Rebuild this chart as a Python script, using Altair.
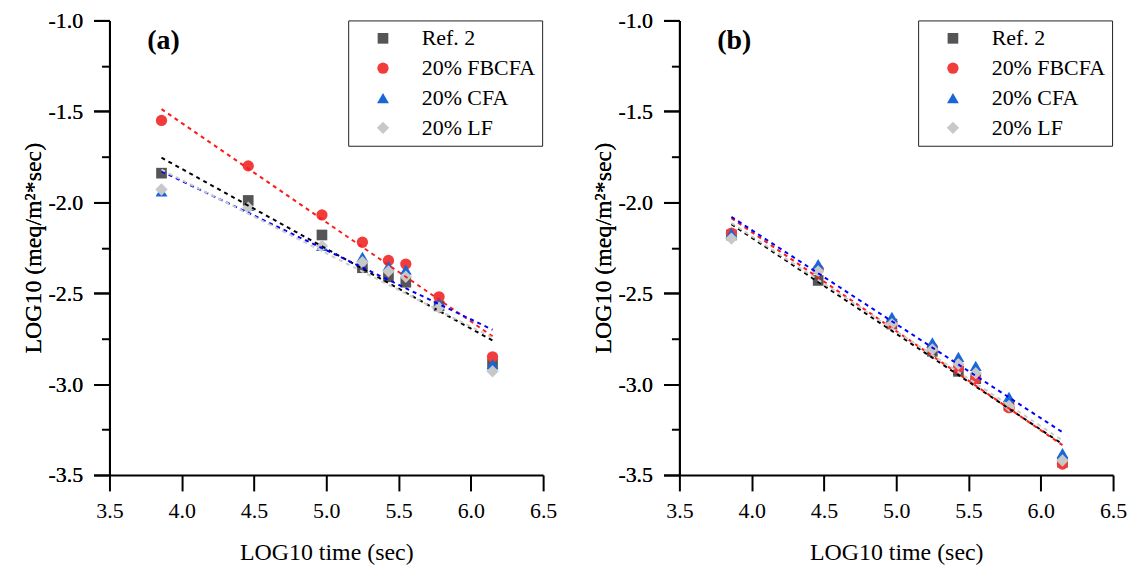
import altair as alt
import pandas as pd

# ---- data ----
x_vals = [3.86, 4.46, 4.97, 5.25, 5.43, 5.55, 5.78, 6.15]
series_names = ["Ref. 2", "20% FBCFA", "20% CFA", "20% LF"]

ref2_a = [-1.84, -1.99, -2.18, -2.36, -2.41, -2.44, -2.57, -2.89]
fbcfa_a = [-1.55, -1.80, -2.07, -2.22, -2.32, -2.34, -2.52, -2.85]
cfa_a = [-1.94, -2.02, -2.24, -2.30, -2.35, -2.37, -2.55, -2.89]
lf_a = [-1.93, -2.03, -2.24, -2.33, -2.38, -2.41, -2.58, -2.93]

ref2_b = [-2.18, -2.43, -2.67, -2.82, -2.93, -2.97, -3.12, -3.43]
fbcfa_b = [-2.17, -2.37, -2.67, -2.80, -2.91, -2.97, -3.13, -3.44]
cfa_b = [-2.17, -2.34, -2.63, -2.77, -2.85, -2.90, -3.07, -3.38]
lf_b = [-2.20, -2.38, -2.67, -2.81, -2.89, -2.94, -3.12, -3.42]

x_ticks = [3.5, 4.0, 4.5, 5.0, 5.5, 6.0, 6.5]
y_major = [-3.5, -3.0, -2.5, -2.0, -1.5, -1.0]
y_minor = [-3.25, -2.75, -2.25, -1.75, -1.25]

# ---- styles ----
marker_colors = ["#555555", "#f23c3c", "#1a66d9", "#c8c8c8"]
line_colors = ["#000000", "#ff1a1a", "#0000ff", "#cccccc"]
shapes = ["square", "circle", "triangle-up", "diamond"]
sizes = [115, 155, 175, 215]
FONT = "Liberation Serif"


def build(series_vals, label):
    rows = []
    for name, vals in zip(series_names, series_vals):
        for xv, yv in zip(x_vals, vals):
            rows.append({"x": xv, "y": yv, "series": name})
    df = pd.DataFrame(rows)

    x_axis = alt.Axis(
        values=x_ticks, title="LOG10 time (sec)", grid=False,
        labelExpr="format(datum.value, '.1f')",
        labelFont=FONT, labelFontSize=22, titleFont=FONT, titleFontSize=24,
        tickSize=16, labelPadding=10, titlePadding=19,
        labelFlush=False, labelOverlap=False,
    )
    y_axis = alt.Axis(
        values=y_major, title="LOG10 (meq/m²*sec)", grid=False, orient="left",
        labelExpr="replace(format(datum.value, '.1f'), '−', '-')",
        labelFont=FONT, labelFontSize=22, titleFont=FONT, titleFontSize=24,
        tickSize=16, labelPadding=11, titlePadding=2,
        labelOverlap=False,
    )
    y_minor_axis = alt.Axis(
        values=y_minor, title=None, grid=False, orient="left",
        labels=False, domain=False, tickSize=8,
    )
    xscale = alt.Scale(domain=[3.5, 6.5], nice=False, zero=False)
    yscale = alt.Scale(domain=[-3.5, -1.0], nice=False, zero=False)
    xenc = alt.X("x:Q", scale=xscale, axis=x_axis)
    yenc = alt.Y("y:Q", scale=yscale, axis=y_axis)

    leg = alt.Legend(
        title=None, orient="none", legendX=240, legendY=0,
        strokeColor="#222222", fillColor="white", padding=7,
        labelFont=FONT, labelFontSize=22, labelColor="black",
        symbolSize=130, symbolStrokeWidth=0, rowPadding=8,
        labelOffset=28, symbolOffset=17,
    )

    pts = alt.Chart(df).mark_point(filled=True, opacity=1, strokeWidth=0).encode(
        x=xenc, y=yenc,
        color=alt.Color("series:N", scale=alt.Scale(domain=series_names, range=marker_colors), legend=leg),
        shape=alt.Shape("series:N", scale=alt.Scale(domain=series_names, range=shapes), legend=leg),
        size=alt.Size("series:N", scale=alt.Scale(domain=series_names, range=sizes), legend=None),
    )

    lines = alt.Chart(df).transform_regression(
        "x", "y", groupby=["series"]
    ).mark_line(strokeDash=[4, 4], strokeWidth=2).encode(
        x=xenc, y=yenc,
        stroke=alt.Stroke("series:N", scale=alt.Scale(domain=series_names, range=line_colors), legend=None),
    )

    minor = alt.Chart(df).mark_point(opacity=0).encode(
        x=xenc,
        y=alt.Y("y:Q", scale=yscale, axis=y_minor_axis),
    )

    txt = alt.Chart(pd.DataFrame({"t": [label]})).mark_text(
        font=FONT, fontSize=28, fontWeight="bold", align="left",
        baseline="alphabetic", color="black",
    ).encode(text="t:N", x=alt.value(38), y=alt.value(29))

    return alt.layer(pts, lines, minor, txt).resolve_axis(y="independent").properties(
        width=436, height=457
    )


panel_a = build([ref2_a, fbcfa_a, cfa_a, lf_a], "(a)")
panel_b = build([ref2_b, fbcfa_b, cfa_b, lf_b], "(b)")

chart = alt.hconcat(panel_a, panel_b, spacing=35).resolve_scale(
    color="independent", shape="independent", size="independent", stroke="independent"
).resolve_legend(
    color="independent", shape="independent", size="independent", stroke="independent"
).properties(
    padding={"left": 14, "top": 0, "right": 0, "bottom": 0}
).configure_view(stroke=None).configure_axis(
    labelFont=FONT, labelFontSize=22, labelColor="black",
    titleFont=FONT, titleFontSize=24, titleFontWeight="normal", titleColor="black",
    domainColor="black", domainWidth=2, tickColor="black", tickWidth=2,
)

chart.save("out.html", embed_options={"renderer": "svg", "actions": False})
